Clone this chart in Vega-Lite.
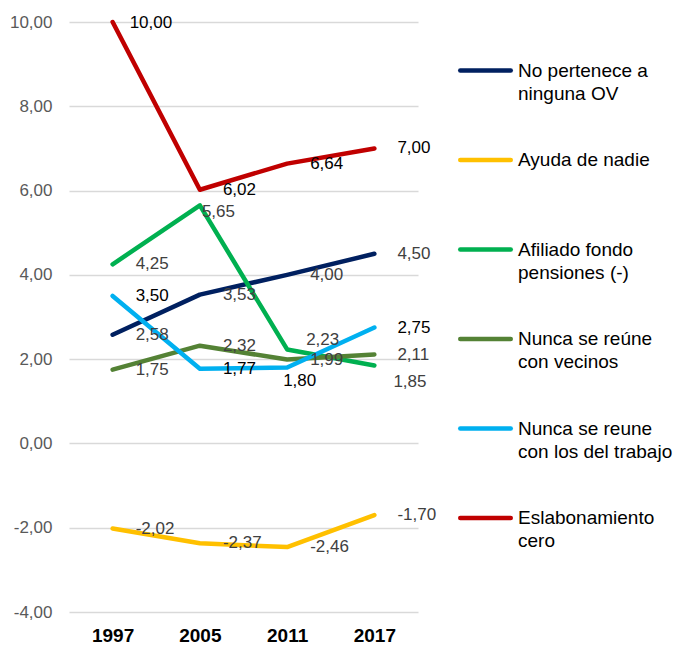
{
  "$schema": "https://vega.github.io/schema/vega-lite/v6.json",
  "width": 349,
  "height": 590,
  "autosize": {"type": "none"},
  "padding": {"left": 69, "top": 22, "right": 260, "bottom": 34},
  "background": "white",
  "config": {
    "view": {"stroke": null},
    "font": "Liberation Sans",
    "locale": {"number": {"decimal": ",", "thousands": ".", "grouping": [3], "currency": ["", " €"], "minus": "-"}}
  },
  "data": {
    "values": [
      {"series": "No pertenece a ninguna OV", "year": "1997", "value": 2.58},
      {"series": "No pertenece a ninguna OV", "year": "2005", "value": 3.53},
      {"series": "No pertenece a ninguna OV", "year": "2011", "value": 4.00},
      {"series": "No pertenece a ninguna OV", "year": "2017", "value": 4.50},
      {"series": "Ayuda de nadie", "year": "1997", "value": -2.02},
      {"series": "Ayuda de nadie", "year": "2005", "value": -2.37},
      {"series": "Ayuda de nadie", "year": "2011", "value": -2.46},
      {"series": "Ayuda de nadie", "year": "2017", "value": -1.70},
      {"series": "Afiliado fondo pensiones (-)", "year": "1997", "value": 4.25},
      {"series": "Afiliado fondo pensiones (-)", "year": "2005", "value": 5.65},
      {"series": "Afiliado fondo pensiones (-)", "year": "2011", "value": 2.23},
      {"series": "Afiliado fondo pensiones (-)", "year": "2017", "value": 1.85},
      {"series": "Nunca se reúne con vecinos", "year": "1997", "value": 1.75},
      {"series": "Nunca se reúne con vecinos", "year": "2005", "value": 2.32},
      {"series": "Nunca se reúne con vecinos", "year": "2011", "value": 1.99},
      {"series": "Nunca se reúne con vecinos", "year": "2017", "value": 2.11},
      {"series": "Nunca se reune con los del trabajo", "year": "1997", "value": 3.50},
      {"series": "Nunca se reune con los del trabajo", "year": "2005", "value": 1.77},
      {"series": "Nunca se reune con los del trabajo", "year": "2011", "value": 1.80},
      {"series": "Nunca se reune con los del trabajo", "year": "2017", "value": 2.75},
      {"series": "Eslabonamiento cero", "year": "1997", "value": 10.00},
      {"series": "Eslabonamiento cero", "year": "2005", "value": 6.02},
      {"series": "Eslabonamiento cero", "year": "2011", "value": 6.64},
      {"series": "Eslabonamiento cero", "year": "2017", "value": 7.00}
    ]
  },
  "encoding": {
    "x": {
      "field": "year", "type": "ordinal",
      "scale": {"type": "point", "padding": 0.5},
      "axis": {"title": null, "labelAngle": 0, "labelFontSize": 19, "labelFontWeight": "bold", "labelColor": "#000000", "domain": false, "ticks": false, "grid": false, "labelPadding": 14}
    },
    "y": {
      "field": "value", "type": "quantitative",
      "scale": {"domain": [-4, 10], "nice": false, "zero": false},
      "axis": {"title": null, "values": [-4, -2, 0, 2, 4, 6, 8, 10], "format": ".2f", "labelFontSize": 17, "labelColor": "#595959", "labelPadding": 17, "domain": false, "ticks": false, "gridColor": "#D9D9D9", "gridWidth": 1.5}
    }
  },
  "layer": [
    {
      "mark": {"type": "line", "strokeWidth": 4.5, "strokeCap": "round", "strokeJoin": "round"},
      "encoding": {
        "color": {
          "field": "series", "type": "nominal", "sort": null,
          "scale": {
            "domain": ["No pertenece a ninguna OV", "Ayuda de nadie", "Afiliado fondo pensiones (-)", "Nunca se reúne con vecinos", "Nunca se reune con los del trabajo", "Eslabonamiento cero"],
            "range": ["#002060", "#FFC000", "#00B050", "#548235", "#00B0F0", "#C00000"]
          },
          "legend": {
            "title": null,
            "orient": "none",
            "legendX": 389,
            "legendY": 21,
            "padding": 0,
            "symbolType": "stroke",
            "symbolSize": 2550,
            "symbolStrokeWidth": 4.5,
            "labelFontSize": 19,
            "labelColor": "#000000",
            "labelFont": "Liberation Sans",
            "labelOffset": 5,
            "labelLimit": 300,
            "rowPadding": 28.5,
            "gridAlign": "all",
            "labelExpr": "datum.label == 'No pertenece a ninguna OV' ? ['No pertenece a', 'ninguna OV'] : datum.label == 'Afiliado fondo pensiones (-)' ? ['Afiliado fondo', 'pensiones (-)'] : datum.label == 'Nunca se reúne con vecinos' ? ['Nunca se reúne', 'con vecinos'] : datum.label == 'Nunca se reune con los del trabajo' ? ['Nunca se reune', 'con los del trabajo'] : datum.label == 'Eslabonamiento cero' ? ['Eslabonamiento', 'cero'] : [datum.label, ' ']",
            "encode": {
              "labels": {"update": {"lineHeight": {"value": 23}}},
              "symbols": {"update": {"strokeCap": {"value": "round"}}}
            }
          }
        }
      }
    },
    {
      "transform": [{"filter": "!((datum.series == 'Eslabonamiento cero' && datum.year == '1997') || (datum.series == 'Afiliado fondo pensiones (-)' && datum.year != '1997') || (datum.series == 'Nunca se reune con los del trabajo' && datum.year == '2011'))"}],
      "mark": {"type": "text", "align": "left", "baseline": "middle", "dx": 23, "fontSize": 17},
      "encoding": {
        "text": {"field": "value", "type": "quantitative", "format": ".2f"},
        "color": {"condition": {"test": "datum.series == 'Eslabonamiento cero' || datum.series == 'Nunca se reune con los del trabajo'", "value": "#000000"}, "value": "#404040"}
      }
    },
    {
      "transform": [{"filter": "datum.series == 'Eslabonamiento cero' && datum.year == '1997'"}],
      "mark": {"type": "text", "align": "left", "baseline": "middle", "dx": 17, "dy": 1, "fontSize": 17, "color": "#000000"},
      "encoding": {"text": {"field": "value", "type": "quantitative", "format": ".2f"}}
    },
    {
      "transform": [{"filter": "datum.series == 'Afiliado fondo pensiones (-)' && datum.year == '2005'"}],
      "mark": {"type": "text", "align": "left", "baseline": "middle", "dx": 2, "dy": 7, "fontSize": 17, "color": "#404040"},
      "encoding": {"text": {"field": "value", "type": "quantitative", "format": ".2f"}}
    },
    {
      "transform": [{"filter": "datum.series == 'Afiliado fondo pensiones (-)' && datum.year == '2011'"}],
      "mark": {"type": "text", "align": "left", "baseline": "middle", "dx": 19, "dy": -9, "fontSize": 17, "color": "#404040"},
      "encoding": {"text": {"field": "value", "type": "quantitative", "format": ".2f"}}
    },
    {
      "transform": [{"filter": "datum.series == 'Afiliado fondo pensiones (-)' && datum.year == '2017'"}],
      "mark": {"type": "text", "align": "left", "baseline": "middle", "dx": 19, "dy": 17, "fontSize": 17, "color": "#404040"},
      "encoding": {"text": {"field": "value", "type": "quantitative", "format": ".2f"}}
    },
    {
      "transform": [{"filter": "datum.series == 'Nunca se reune con los del trabajo' && datum.year == '2011'"}],
      "mark": {"type": "text", "align": "left", "baseline": "middle", "dx": -4, "dy": 13, "fontSize": 17, "color": "#000000"},
      "encoding": {"text": {"field": "value", "type": "quantitative", "format": ".2f"}}
    }
  ]
}
